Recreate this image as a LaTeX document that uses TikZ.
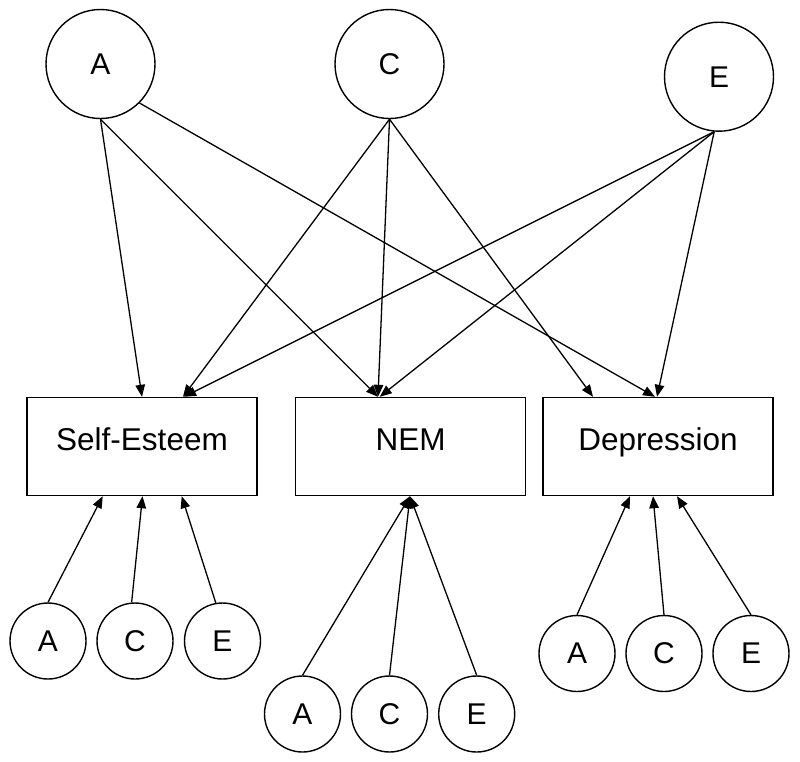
\documentclass[tikz,border=0pt]{standalone}
\usepackage{fontspec}
\setmainfont{Liberation Sans}
\usetikzlibrary{arrows.meta}
\tikzset{
  bigc/.style={circle, draw, line width=1.4pt, minimum size=109pt, inner sep=0pt, font=\fontsize{30}{36}\selectfont},
  smallc/.style={circle, draw, line width=1.4pt, minimum size=76pt, inner sep=0pt, font=\fontsize{30}{36}\selectfont},
  varbox/.style={rectangle, draw, line width=1.4pt, minimum width=230pt, minimum height=98pt, inner sep=0pt, font=\fontsize{31.5}{36}\selectfont, text height=22.6pt, text depth=14.2pt},
  arr/.style={line width=1.3pt, -{Triangle[length=12pt,width=9.5pt]}}
}
\begin{document}
\begin{tikzpicture}[x=1pt,y=-1pt]
\useasboundingbox (0,0) rectangle (800,761);
% top latent factors
\node[bigc] (tA) at (100.5,64) {A};
\node[bigc] (tC) at (389.5,64) {C};
\node[bigc] (tE) at (719,76.7) {E};
% boxes
\node[varbox] (se)  at (142,446.5) {Self-Esteem};
\node[varbox] (nem) at (410.7,446.5) {NEM};
\node[varbox] (dep) at (658,446.5) {Depression};
% bottom factors
\node[smallc] (sA) at (48,641) {A};
\node[smallc] (sC) at (135,641) {C};
\node[smallc] (sE) at (222.5,641) {E};
\node[smallc] (nA) at (302.5,714) {A};
\node[smallc] (nC) at (389.5,714) {C};
\node[smallc] (nE) at (476.7,714) {E};
\node[smallc] (dA) at (577,653.5) {A};
\node[smallc] (dC) at (664,653.5) {C};
\node[smallc] (dE) at (751,653.5) {E};
% top arrows
\draw[arr] (tA.south) -- ([xshift=0pt]se.north);
\draw[arr] (tA.south) -- ([xshift=-32.7pt]nem.north);
\draw[arr] (tA.south east) -- ([xshift=-3pt]dep.north);
\draw[arr] (tC.south) -- ([xshift=41pt]se.north);
\draw[arr] (tC.south) -- ([xshift=-32.7pt]nem.north);
\draw[arr] (tC.south) -- ([xshift=-65pt]dep.north);
\draw[arr] (tE.-95) -- ([xshift=42pt]se.north);
\draw[arr] (tE.-95) -- ([xshift=-31pt]nem.north);
\draw[arr] (tE.-95) -- ([xshift=-1pt]dep.north);
% bottom arrows
\draw[arr] (sA.north) -- ([xshift=-39.3pt]se.south);
\draw[arr] (sC.95) -- ([xshift=0.5pt]se.south);
\draw[arr] (sE.100) -- ([xshift=39.7pt]se.south);
\draw[arr] (nA.north) -- ([xshift=-0.7pt]nem.south);
\draw[arr] (nC.north) -- ([xshift=-0.7pt]nem.south);
\draw[arr] (nE.north) -- ([xshift=-0.7pt]nem.south);
\draw[arr] (dA.north) -- ([xshift=-28pt]dep.south);
\draw[arr] (dC.north) -- ([xshift=-5pt]dep.south);
\draw[arr] (dE.north) -- ([xshift=19pt]dep.south);
\end{tikzpicture}
\end{document}
